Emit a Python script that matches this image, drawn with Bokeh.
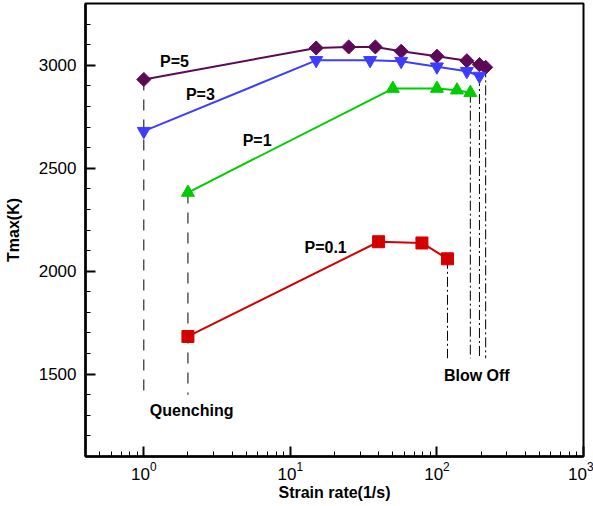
import math
from bokeh.plotting import figure
from bokeh.models import FixedTicker, Range1d
from bokeh.core.properties import value
from bokeh.embed import file_html
from bokeh.resources import INLINE

# ---- data ----
p5_x = [1, 15, 25, 38, 57, 100, 160, 195, 215]
p5_y = [2931, 3084, 3089, 3089, 3068, 3044, 3022, 3003, 2990]
p3_x = [1, 15, 35, 57, 100, 160, 195]
p3_y = [2680, 3024, 3024, 3020, 2993, 2971, 2948]
p1_x = [2, 50, 100, 137, 169]
p1_y = [2382, 2887, 2887, 2879, 2867]
p01_x = [2, 40, 79, 118]
p01_y = [1683, 2143, 2137, 2060]

series_labels = ["P=5", "P=3", "P=1", "P=0.1"]
x_major_ticks = [1, 10, 100, 1000]
x_minor_ticks = [m * d for d in (0.1, 1, 10, 100) for m in range(2, 10)]
y_major_ticks = [1500, 2000, 2500, 3000]
y_minor_ticks = list(range(1100, 3400, 100))

quench_floor = 1400
blowoff_floor = 1577

FONT = "Liberation Sans"

p = figure(width=593, height=506, x_axis_type="log",
           x_range=Range1d(0.4, 1000), y_range=Range1d(1100, 3300),
           output_backend="svg", toolbar_location=None,
           min_border_left=85, min_border_right=10, min_border_top=3, min_border_bottom=50)
p.frame_width = 498
p.frame_height = 453
p.background_fill_color = "white"
p.border_fill_color = "white"
p.grid.visible = False
p.outline_line_color = "black"
p.outline_line_width = 2
p.outline_line_alpha = 1

for ax in (p.xaxis[0], p.yaxis[0]):
    ax.axis_line_width = 2.5
    ax.axis_line_color = "black"
    ax.major_tick_line_color = "black"
    ax.minor_tick_line_color = "black"
    ax.major_tick_line_width = 2
    ax.minor_tick_line_width = 1
    ax.major_tick_in = 10
    ax.major_tick_out = 0
    ax.minor_tick_in = 5
    ax.minor_tick_out = 0
    ax.major_label_text_font = FONT
    ax.major_label_text_font_size = "17px"
    ax.major_label_text_color = "black"
    ax.axis_label_text_font = FONT
    ax.axis_label_text_font_size = "16px"
    ax.axis_label_text_font_style = "bold"
    ax.axis_label_text_color = "black"

p.xaxis.ticker = FixedTicker(ticks=x_major_ticks, minor_ticks=x_minor_ticks)
p.yaxis.ticker = FixedTicker(ticks=y_major_ticks, minor_ticks=y_minor_ticks)
p.xaxis.axis_label = "Strain rate(1/s)"
p.yaxis.axis_label = "Tmax(K)"
p.xaxis.major_label_standoff = 5
p.yaxis.major_label_standoff = 9
p.xaxis.axis_label_standoff = 1
p.yaxis.axis_label_standoff = 14

# ---- guide lines ----
dash = "11 9"
dashdot = "10 3 2 3"
p.segment(x0=[p5_x[0], p1_x[0]], y0=[p5_y[0], p1_y[0]],
          x1=[p5_x[0], p1_x[0]], y1=[quench_floor, quench_floor],
          line_color="black", line_width=1, line_dash=dash)
ends_x = [p01_x[-1], p1_x[-1], p3_x[-1], p5_x[-1]]
ends_y = [p01_y[-1], p1_y[-1], p3_y[-1], p5_y[-1]]
p.segment(x0=ends_x, y0=ends_y, x1=ends_x, y1=[blowoff_floor] * 4,
          line_color="black", line_width=1, line_dash=dashdot)

# ---- series ----
purple = "#5c0a58"
blue = "#3d3dff"
green = "#00cc00"
red = "#d40000"

p.line(p5_x, p5_y, line_color=purple, line_width=2)
p.scatter(p5_x, p5_y, marker="square", angle=math.pi / 4, size=10,
          fill_color=purple, line_color=purple)
p.line(p3_x, p3_y, line_color=blue, line_width=2)
p.scatter(p3_x, p3_y, marker="inverted_triangle", size=13,
          fill_color=blue, line_color=blue)
p.line(p1_x, p1_y, line_color=green, line_width=2)
p.scatter(p1_x, p1_y, marker="triangle", size=13,
          fill_color=green, line_color=green)
p.line(p01_x, p01_y, line_color=red, line_width=2)
p.scatter(p01_x, p01_y, marker="square", size=12,
          fill_color=red, line_color=red)

# ---- annotations ----
ann_x = [1.62, 2.43, 5.93, 17.4, 2.12, 187]
ann_y = [3017, 2857, 2637, 2114, 1322, 1492]
ann_t = series_labels + ["Quenching", "Blow Off"]
p.text(x=ann_x, y=ann_y, text=ann_t, text_font=value(FONT),
       text_font_size="16px", text_font_style="bold", text_color="black",
       text_align="center", text_baseline="middle")

open("out.html", "w").write(file_html(p, INLINE))
